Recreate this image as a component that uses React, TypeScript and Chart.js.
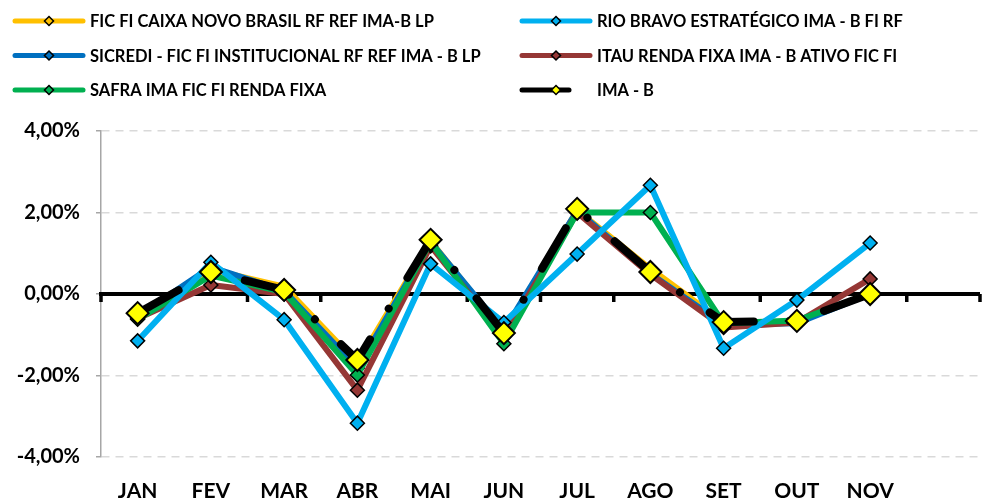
import React, { useEffect, useRef } from 'react';
import { Chart, registerables } from 'chart.js';

Chart.register(...registerables);

const months = ['JAN', 'FEV', 'MAR', 'ABR', 'MAI', 'JUN', 'JUL', 'AGO', 'SET', 'OUT', 'NOV', ''];

const caixa = [-0.5, 0.6, 0.18, -1.7, 1.3, -0.95, 2.05, 0.62, -0.7, -0.68, 0.02, null];
const rioBravo = [-1.15, 0.78, -0.63, -3.17, 0.74, -0.7, 0.98, 2.67, -1.33, -0.15, 1.25, null];
const sicredi = [-0.55, 0.66, 0.08, -1.82, 1.28, -0.9, 2.05, 0.5, -0.75, -0.72, 0.0, null];
const itau = [-0.6, 0.22, 0.0, -2.36, 1.18, -1.05, 2.0, 0.48, -0.82, -0.7, 0.37, null];
const safra = [-0.62, 0.45, 0.05, -1.99, 1.28, -1.22, 2.0, 2.0, -0.72, -0.65, 0.0, null];
const imaB = [-0.47, 0.54, 0.1, -1.62, 1.33, -0.96, 2.09, 0.54, -0.69, -0.66, 0.0, null];

const yTicks = [-4, -2, 0, 2, 4];

const FONT = 'Lato, "Open Sans", sans-serif';

const seriesDefs = [
  { label: 'IMA - B', data: imaB, color: '#000000', marker: '#FFFF00', col: 1, row: 2, order: 0 },
  { label: 'RIO BRAVO ESTRATÉGICO IMA - B FI RF', data: rioBravo, color: '#00B0F0', marker: '#00B0F0', col: 1, row: 0, order: 1 },
  { label: 'SAFRA IMA FIC FI RENDA FIXA', data: safra, color: '#00B050', marker: '#00B050', col: 0, row: 2, order: 2 },
  { label: 'ITAU RENDA FIXA IMA - B ATIVO FIC FI', data: itau, color: '#953735', marker: '#953735', col: 1, row: 1, order: 3 },
  { label: 'SICREDI - FIC FI INSTITUCIONAL RF REF IMA - B LP', data: sicredi, color: '#0070C0', marker: '#0070C0', col: 0, row: 1, order: 4 },
  { label: 'FIC FI CAIXA NOVO BRASIL RF REF IMA-B LP', data: caixa, color: '#FFC000', marker: '#FFC000', col: 0, row: 0, order: 5 },
];

export default function App() {
  const ref = useRef<HTMLCanvasElement>(null);

  useEffect(() => {
    document.body.style.margin = '0';
    const canvas = ref.current;
    if (!canvas) return;

    const zeroLine = {
      id: 'zeroLine',
      beforeDatasetsDraw(chart: any) {
        const { ctx, chartArea, scales } = chart;
        const y0 = scales.y.getPixelForValue(0);
        ctx.save();
        ctx.strokeStyle = '#000';
        ctx.lineWidth = 4;
        ctx.beginPath();
        ctx.moveTo(chartArea.left - 2, y0);
        ctx.lineTo(chartArea.right, y0);
        ctx.stroke();
        const n = months.length;
        const band = (chartArea.right - chartArea.left) / n;
        ctx.lineWidth = 3.5;
        for (let i = 0; i <= n; i++) {
          const x = chartArea.left + i * band;
          ctx.beginPath();
          ctx.moveTo(x, y0);
          ctx.lineTo(x, y0 + 8);
          ctx.stroke();
        }
        ctx.restore();
      },
    };

    const legendPlugin = {
      id: 'customLegend',
      afterDraw(chart: any) {
        const { ctx } = chart;
        ctx.save();
        chart.data.datasets.forEach((ds: any) => {
          const col = ds.legendCol;
          const row = ds.legendRow;
          const y = 21 + row * 34.5;
          const x0 = col === 0 ? 13 : 520;
          const x1 = ds.label === 'IMA - B' ? x0 + 51 : x0 + 72;
          const xm = x0 + 36;
          const tx = col === 0 ? 90 : 597;
          ctx.lineCap = 'round';
          ctx.strokeStyle = ds.borderColor;
          ctx.lineWidth = 5;
          ctx.setLineDash([]);
          ctx.beginPath();
          ctx.moveTo(x0 + 2, y);
          ctx.lineTo(x1 - 2, y);
          ctx.stroke();
          const r = 4.5;
          ctx.beginPath();
          ctx.moveTo(xm, y - r);
          ctx.lineTo(xm + r, y);
          ctx.lineTo(xm, y + r);
          ctx.lineTo(xm - r, y);
          ctx.closePath();
          ctx.fillStyle = ds.pointBackgroundColor;
          ctx.fill();
          ctx.lineWidth = 1.5;
          ctx.strokeStyle = '#000';
          ctx.stroke();
          ctx.fillStyle = '#000';
          ctx.font = 'bold 16.5px ' + FONT;
          ctx.textBaseline = 'middle';
          ctx.textAlign = 'left';
          ctx.fillText(ds.label, tx, y + 1);
        });
        ctx.restore();
      },
    };

    const datasets = seriesDefs.map((s) => {
      const isIma = s.label === 'IMA - B';
      return {
        label: s.label,
        data: s.data,
        borderColor: s.color,
        backgroundColor: s.color,
        borderWidth: isIma ? 8 : 6,
        borderDash: isIma ? [47, 36, 0.01, 36] : [],
        borderCapStyle: isIma ? 'round' : 'butt',
        borderJoinStyle: 'round',
        pointStyle: 'rectRot',
        pointRadius: isIma ? 11 : 7,
        pointBackgroundColor: s.marker,
        pointBorderColor: '#000',
        pointBorderWidth: isIma ? 2 : 1.5,
        tension: 0,
        order: s.order,
        legendCol: s.col,
        legendRow: s.row,
      } as any;
    });

    const chart = new Chart(canvas, {
      type: 'line',
      data: { labels: months, datasets },
      options: {
        animation: false,
        responsive: false,
        maintainAspectRatio: false,
        layout: { autoPadding: false, padding: { top: 131, right: 2, left: 0, bottom: 0 } },
        plugins: { legend: { display: false }, tooltip: { enabled: false } },
        scales: {
          x: {
            type: 'category',
            offset: true,
            grid: {
              display: true,
              drawOnChartArea: false,
              drawTicks: true,
              tickLength: 22,
              color: 'rgba(0,0,0,0)',
              tickColor: 'rgba(0,0,0,0)',
            },
            border: { display: false },
            ticks: {
              color: '#000',
              font: { family: FONT, size: 21, weight: 'bold' },
              padding: 0,
              maxRotation: 0,
              autoSkip: false,
            },
            afterFit: (s: any) => {
              s.height = 45;
              s.paddingRight = 0;
              s.paddingLeft = 0;
            },
          },
          y: {
            min: -4,
            max: 4,
            afterBuildTicks: (s: any) => {
              s.ticks = yTicks.map((v) => ({ value: v }));
            },
            ticks: {
              color: '#000',
              font: { family: FONT, size: 20, weight: 'bold' },
              padding: 16,
              callback: (v: any) => Number(v).toFixed(2).replace('.', ',') + '%',
            },
            grid: {
              color: (c: any) => (c.tick && c.tick.value === 0 ? 'rgba(0,0,0,0)' : '#d9d9d9'),
              lineWidth: 1.5,
              tickColor: '#a6a6a6',
              tickLength: 5,
            },
            border: { display: true, color: '#a6a6a6', width: 1.5, dash: [8, 6] },
            afterFit: (s: any) => {
              s.width = 101;
            },
          },
        },
      },
      plugins: [zeroLine, legendPlugin],
    });

    return () => chart.destroy();
  }, []);

  return (
    <div style={{ position: 'absolute', left: 0, top: 0, width: 982, height: 502, background: '#fff' }}>
      <canvas ref={ref} width={982} height={502} style={{ display: 'block', width: 982, height: 502 }} />
    </div>
  );
}
